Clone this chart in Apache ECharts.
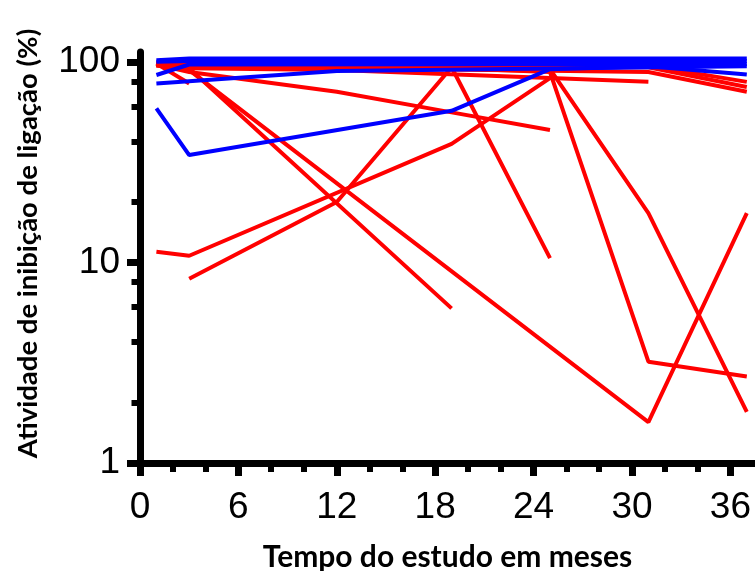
<!DOCTYPE html>
<html><head><meta charset="utf-8">
<script src="https://cdn.jsdelivr.net/npm/echarts@6/dist/echarts.min.js"></script>
<style>html,body{margin:0;padding:0;background:#fff}#c{width:755px;height:571px}</style>
</head><body><div id="c"></div>
<script>
// tick values
const xTicks = [0, 6, 12, 18, 24, 30, 36];
const xMinorTicks = [2, 4, 8, 10, 14, 16, 20, 22, 26, 28, 32, 34];
const yTicks = [1, 10, 100];
const yMinorTicks = [2, 4, 6, 8, 20, 40, 60, 80];

// red series [month, %]
const red1 = [[1, 98], [3, 78]];
const red2 = [[1, 99], [3, 93], [19, 5.9]];
const red3 = [[1, 96], [3, 91], [31, 1.6], [37, 17.6]];
const red4 = [[1, 11.3], [3, 10.8], [19, 39], [25, 83]];
const red5 = [[3, 8.3], [12, 20], [19, 94], [25, 10.5]];
const red6 = [[1, 97], [3, 89], [12, 71], [19, 56], [25, 45.7]];
const red7 = [[1, 98], [3, 96], [19, 95], [25, 92], [31, 17.6], [37, 1.8]];
const red8 = [[1, 97], [3, 95], [19, 93], [25, 89], [31, 3.2], [37, 2.7]];
const red9 = [[1, 99], [3, 97], [31, 96], [37, 79.5]];
const red10 = [[1, 98], [3, 96], [31, 94], [37, 75]];
const red11 = [[1, 96], [3, 95], [31, 89], [37, 71]];
const red12 = [[3, 93], [12, 91], [25, 83], [31, 79.5]];

// blue series [month, %]
const blue1 = [[1, 58.6], [3, 34.3], [19, 57], [25, 92], [31, 95], [37, 86.5]];
const blue2 = [[1, 78], [12, 90], [37, 95]];
const blue3 = [[1, 86], [3, 97], [37, 97.5]];
const blue4 = [[1, 102], [3, 104], [37, 104]];
const blue5 = [[1, 100], [3, 101], [37, 101]];

const redLines = [red1, red2, red3, red4, red5, red6, red7, red8, red9, red10, red11, red12];
const blueLines = [blue1, blue2, blue3, blue4, blue5];

const series = [];
redLines.forEach(d => series.push({type: 'line', data: d, symbol: 'none', silent: true,
  lineStyle: {color: '#FF0000', width: 4}, xAxisIndex: 0, yAxisIndex: 0}));
blueLines.forEach(d => series.push({type: 'line', data: d, symbol: 'none', silent: true,
  lineStyle: {color: '#0000FF', width: 4}, xAxisIndex: 0, yAxisIndex: 0}));

const chart = echarts.init(document.getElementById('c'), null, {renderer: 'canvas'});
chart.setOption({
  animation: false,
  backgroundColor: '#ffffff',
  grid: {left: 140, right: 0, top: 52, bottom: 108, containLabel: false, outerBoundsMode: 'none'},
  xAxis: [{
    type: 'value', min: 0, max: 37.5, position: 'bottom',
    name: 'Tempo do estudo em meses', nameLocation: 'middle', nameGap: 79,
    nameTextStyle: {fontFamily: 'Lato', fontWeight: 'bold', fontSize: 30, color: '#000'},
    axisLine: {show: true, lineStyle: {color: '#000', width: 7}},
    axisTick: {show: true, length: 13, lineStyle: {color: '#000', width: 7}, customValues: xTicks},
    axisLabel: {show: true, margin: 26, fontFamily: 'Liberation Sans', fontSize: 37, color: '#000', customValues: xTicks},
    splitLine: {show: false}
  }, {
    type: 'value', min: 0, max: 37.5, position: 'bottom',
    axisLine: {show: false},
    axisTick: {show: true, length: 9, lineStyle: {color: '#000', width: 6}, customValues: xMinorTicks},
    axisLabel: {show: false},
    splitLine: {show: false}
  }],
  yAxis: [{
    type: 'log', logBase: 10, min: 1, max: 112, position: 'left',
    name: 'Atividade de inibição de ligação (%)', nameLocation: 'middle', nameGap: 98,
    nameTextStyle: {fontFamily: 'Lato', fontWeight: 'bold', fontSize: 27.5, color: '#000', padding: [0, 0, 0, 28]},
    axisLine: {show: true, lineStyle: {color: '#000', width: 7}},
    axisTick: {show: true, length: 13, lineStyle: {color: '#000', width: 7}, customValues: yTicks},
    axisLabel: {show: true, margin: 20, fontFamily: 'Liberation Sans', fontSize: 37, color: '#000', customValues: yTicks},
    splitLine: {show: false}
  }, {
    type: 'log', logBase: 10, min: 1, max: 112, position: 'left',
    axisLine: {show: false},
    axisTick: {show: true, length: 8.5, lineStyle: {color: '#000', width: 6}, customValues: yMinorTicks},
    axisLabel: {show: false},
    splitLine: {show: false}
  }],
  series: series
});
</script></body></html>
